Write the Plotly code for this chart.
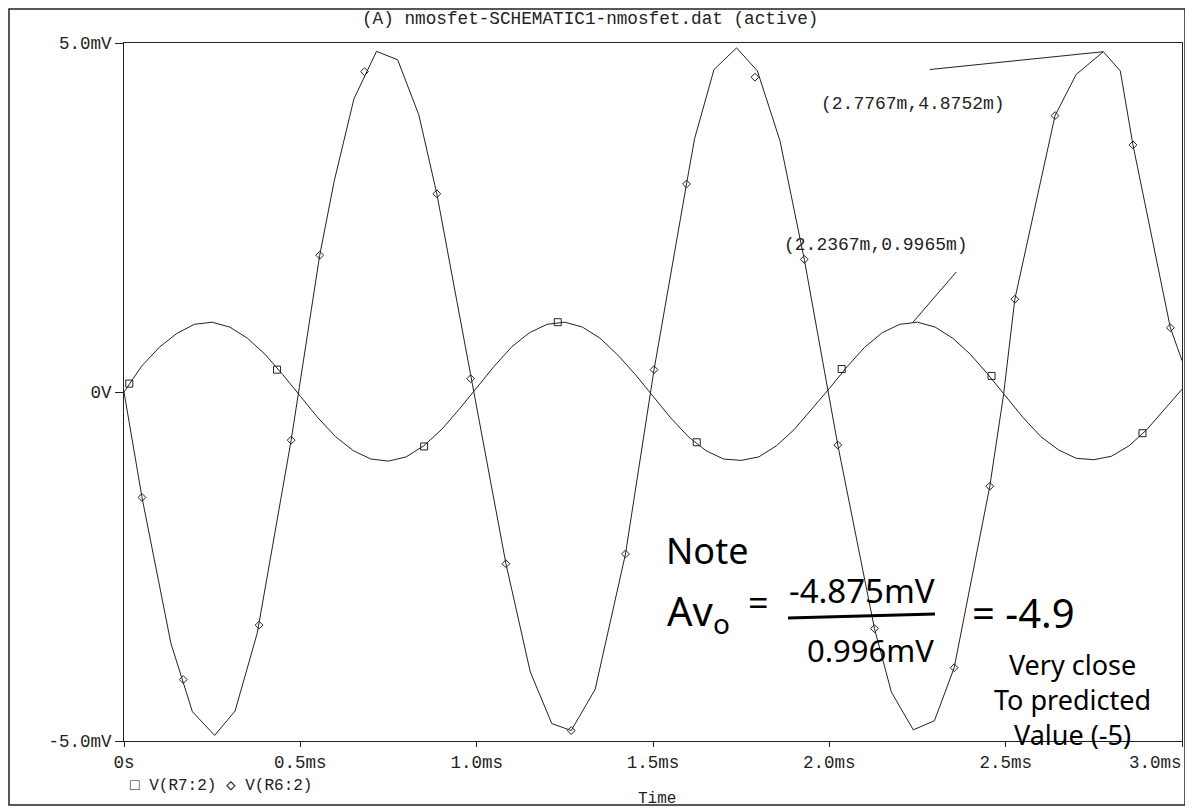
import plotly.graph_objects as go

# ---------------- data ----------------
# V(R7:2) : small input-side signal (mV) vs time (ms)
T_R7 = [0.00, 0.05, 0.10, 0.15, 0.20, 0.25, 0.30, 0.35, 0.40, 0.45,
        0.50, 0.55, 0.60, 0.65, 0.70, 0.75, 0.80, 0.85, 0.90, 0.95,
        1.00, 1.05, 1.10, 1.15, 1.20, 1.25, 1.30, 1.35, 1.40, 1.45,
        1.50, 1.55, 1.60, 1.65, 1.70, 1.75, 1.80, 1.85, 1.90, 1.95,
        2.00, 2.05, 2.10, 2.15, 2.20, 2.25, 2.30, 2.35, 2.40, 2.45,
        2.50, 2.55, 2.60, 2.65, 2.70, 2.75, 2.80, 2.85, 2.90, 2.95,
        3.00]
V_R7 = [0.00, 0.37, 0.64, 0.84, 0.97, 1.00, 0.93, 0.77, 0.54, 0.25,
        -0.06, -0.37, -0.64, -0.84, -0.96, -0.99, -0.93, -0.77, -0.54, -0.25,
        0.06, 0.37, 0.65, 0.85, 0.97, 1.00, 0.93, 0.77, 0.53, 0.25,
        -0.06, -0.37, -0.64, -0.84, -0.96, -0.98, -0.93, -0.77, -0.54, -0.25,
        0.05, 0.36, 0.64, 0.85, 0.97, 1.00, 0.93, 0.77, 0.54, 0.25,
        -0.06, -0.37, -0.64, -0.83, -0.95, -0.97, -0.92, -0.77, -0.54, -0.25,
        0.04]
# marker points (squares) on V(R7:2)
T_R7_MK = [0.015, 0.434, 0.851, 1.230, 1.624, 2.035, 2.460, 2.888]
V_R7_MK = [0.12, 0.32, -0.78, 1.00, -0.72, 0.33, 0.23, -0.59]

# V(R6:2) : amplified output signal (mV), coarse simulation steps
T_R6 = [0.000, 0.051, 0.133, 0.194, 0.257, 0.315, 0.378, 0.474, 0.555, 0.596,
        0.652, 0.716, 0.776, 0.836, 0.887, 0.986, 1.083, 1.152, 1.213, 1.268,
        1.336, 1.422, 1.503, 1.595, 1.618, 1.673, 1.737, 1.796, 1.860, 1.929,
        1.995, 2.024, 2.128, 2.176, 2.238, 2.298, 2.354, 2.455, 2.494, 2.526,
        2.640, 2.700, 2.777, 2.825, 2.861, 2.967, 3.000]
V_R6 = [0.00, -1.51, -3.60, -4.58, -4.92, -4.57, -3.45, -0.69, 1.96, 3.02,
        4.20, 4.88, 4.76, 3.97, 2.84, 0.19, -2.46, -4.01, -4.75, -4.85,
        -4.26, -2.32, 0.32, 2.98, 3.63, 4.62, 4.93, 4.60, 3.60, 1.90,
        0.07, -0.76, -3.39, -4.30, -4.84, -4.71, -3.95, -1.35, -0.04, 1.33,
        3.96, 4.55, 4.8752, 4.60, 3.54, 0.92, 0.45]
# marker points (diamonds) on V(R6:2)
T_R6_MK = [0.051, 0.168, 0.383, 0.474, 0.555, 0.682, 0.887, 0.983, 1.083, 1.268,
           1.422, 1.503, 1.595, 1.789, 1.929, 2.024, 2.128, 2.354, 2.455, 2.526,
           2.640, 2.861, 2.967]
V_R6_MK = [-1.51, -4.12, -3.34, -0.69, 1.96, 4.59, 2.84, 0.19, -2.46, -4.85,
           -2.32, 0.32, 2.98, 4.51, 1.90, -0.76, -3.39, -3.95, -1.35, 1.33,
           3.96, 3.54, 0.92]

# cursor readouts
CUR_R6 = (2.7767, 4.8752)
CUR_R7 = (2.2367, 0.9965)

X_TICKS = [0, 0.5, 1.0, 1.5, 2.0, 2.5, 3.0]
X_LABELS = ["0s", "0.5ms", "1.0ms", "1.5ms", "2.0ms", "2.5ms", "3.0ms"]
Y_TICKS = [-5, 0, 5]
Y_LABELS = ["-5.0mV", "0V", "5.0mV"]

# ---------------- figure geometry ----------------
OFF = 8                      # browser default body margin
W, H = 1193 - OFF, 809 - OFF
L, R, T, B = 116, 11, 35, 68
PW, PH = W - L - R, H - T - B
MONO = "Liberation Mono, Courier New, monospace"
HAND = "Noto Sans, DejaVu Sans, sans-serif"
INK = "#222222"


def px(x):
    """screen x (px) -> paper x"""
    return (x - OFF - L) / PW


def py(y):
    """screen y (px) -> paper y"""
    return (H - B - (y - OFF)) / PH


fig = go.Figure()
fig.add_trace(go.Scatter(x=T_R7, y=V_R7, mode="lines",
                         line=dict(color=INK, width=1), hoverinfo="skip"))
fig.add_trace(go.Scatter(x=T_R6, y=V_R6, mode="lines",
                         line=dict(color=INK, width=1), hoverinfo="skip"))
fig.add_trace(go.Scatter(x=T_R7_MK, y=V_R7_MK, mode="markers",
                         marker=dict(symbol="square-open", size=7,
                                     color=INK, line=dict(width=1))))
fig.add_trace(go.Scatter(x=T_R6_MK, y=V_R6_MK, mode="markers",
                         marker=dict(symbol="diamond-open", size=6,
                                     color=INK, line=dict(width=1))))

ann = []


def text(t, x, y, size, family=MONO, anchor="center", color=INK, align="center"):
    ann.append(dict(text=t, x=px(x), y=py(y), xref="paper", yref="paper",
                    xanchor=anchor, yanchor="middle", showarrow=False,
                    align=align,
                    font=dict(family=family, size=size, color=color)))


# title, legend, axis title
text("(A) nmosfet-SCHEMATIC1-nmosfet.dat (active)", 590, 19, 17.7)
text("\u25a1 V(R7:2) \u25c7 V(R6:2)", 128, 786, 16, anchor="left")
text("Time", 657, 799, 16)
# last x tick label sits left of its tick in the original print
text(X_LABELS[-1], 1184, 763, 17.5, anchor="right")
# cursor labels
text("(%.4fm,%.4fm)" % CUR_R6, 913, 104, 18)
text("(%.4fm,%.4fm)" % CUR_R7, 876, 245, 18)
# handwritten note
BLK = "#000000"
text("Note", 664, 550, 36, HAND, "left", BLK)
text("Av<sub>o</sub>", 665, 612, 40, HAND, "left", BLK)
text("=", 758, 602, 36, HAND, "center", BLK)
text("-4.875mV", 862, 590, 33, HAND, "center", BLK)
text("0.996mV", 870, 650, 31, HAND, "center", BLK)
text("= -4.9", 1023, 612, 40, HAND, "center", BLK)
text("Very close<br>To predicted<br>Value (-5)", 1072, 699, 27, HAND,
     "center", BLK)
fig.update_layout(annotations=ann)

shapes = [
    # outer frame of the printout
    dict(type="rect", xref="paper", yref="paper",
         x0=px(9), x1=px(1185), y0=py(805), y1=py(9),
         line=dict(color=INK, width=1.5)),
    # fraction bar
    dict(type="line", xref="paper", yref="paper",
         x0=px(788), x1=px(935), y0=py(618), y1=py(614),
         line=dict(color=BLK, width=3)),
    # cursor leader lines (data coordinates)
    dict(type="line", xref="x", yref="y",
         x0=2.285, y0=4.62, x1=CUR_R6[0], y1=CUR_R6[1],
         line=dict(color=INK, width=1)),
    dict(type="line", xref="x", yref="y",
         x0=CUR_R7[0], y0=CUR_R7[1], x1=2.36, y1=1.72,
         line=dict(color=INK, width=1)),
]
fig.update_layout(shapes=shapes)

fig.update_layout(
    width=W, height=H, autosize=False,
    margin=dict(l=L, r=R, t=T, b=B, pad=0),
    paper_bgcolor="white", plot_bgcolor="white",
    xaxis=dict(range=[0, 3], tickvals=X_TICKS,
               ticktext=X_LABELS[:-1] + [""],
               showgrid=False, zeroline=False, showline=True, mirror=True,
               linecolor=INK, linewidth=1, ticks="outside", ticklen=5,
               tickcolor=INK, tickfont=dict(family=MONO, size=17.5, color=INK)),
    yaxis=dict(range=[-5, 5], tickvals=Y_TICKS, ticktext=Y_LABELS,
               showgrid=False, zeroline=False, showline=True, mirror=True,
               linecolor=INK, linewidth=1, ticks="outside", ticklen=8,
               tickcolor=INK, tickfont=dict(family=MONO, size=17.5, color=INK)),
    showlegend=False,
)

fig.write_html("out.html")
